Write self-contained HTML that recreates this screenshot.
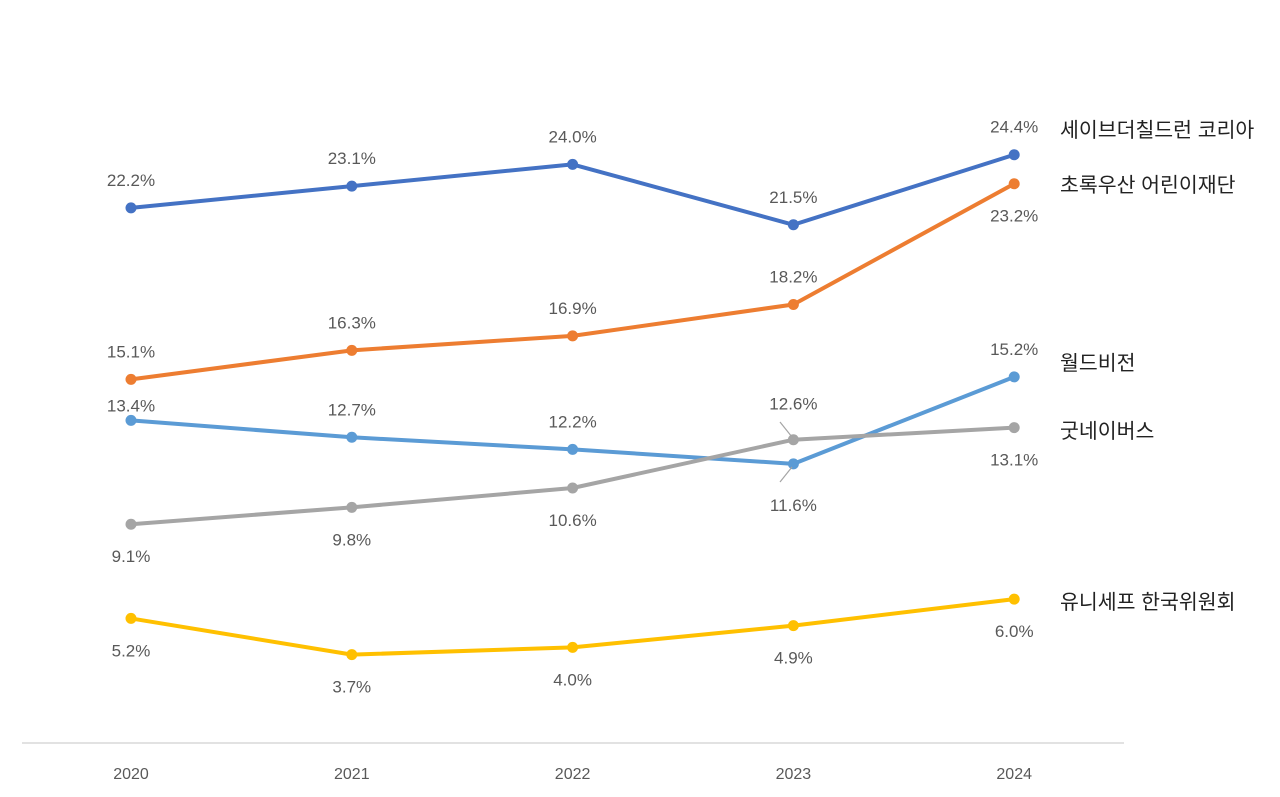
<!DOCTYPE html>
<html><head><meta charset="utf-8">
<style>
html,body{margin:0;padding:0;background:#fff;}
svg{display:block;font-family:"Liberation Sans","Noto Sans CJK KR",sans-serif;}
</style></head>
<body>
<svg id="chart" width="1280" height="797"></svg>
<script>
const years = ["2020","2021","2022","2023","2024"];
const seriesNames = ["세이브더칠드런 코리아","초록우산 어린이재단","월드비전","굿네이버스","유니세프 한국위원회"];
const saveTheChildren = [22.2,23.1,24.0,21.5,24.4];
const greenUmbrella = [15.1,16.3,16.9,18.2,23.2];
const worldVision = [13.4,12.7,12.2,11.6,15.2];
const goodNeighbors = [9.1,9.8,10.6,12.6,13.1];
const unicef = [5.2,3.7,4.0,4.9,6.0];
const seriesValues = [saveTheChildren,greenUmbrella,worldVision,goodNeighbors,unicef];
const colors = ["#4472C4","#ED7D31","#5B9BD5","#A5A5A5","#FFC000"];
// label placement: 1 above, -1 below
const placements = [[1,1,1,1,1],[1,1,1,1,-1],[1,1,1,-1,1],[-1,-1,-1,1,-1],[-1,-1,-1,-1,-1]];
const legendY = [130,185,363,431,602];

const NS="http://www.w3.org/2000/svg";
const svg=document.getElementById('chart');
function x(i){return 131+i*220.8;}
function y(v){return 744-v*24.15;}
function mk(tag,attrs,parent){const e=document.createElementNS(NS,tag);for(const k in attrs)e.setAttribute(k,attrs[k]);(parent||svg).appendChild(e);return e;}

const axis=mk('line',{x1:22,x2:1124,y1:743,y2:743,stroke:'#D9D9D9','stroke-width':1.5});


years.forEach((yr,i)=>{
  const t=mk('text',{x:x(i),y:779,'text-anchor':'middle','font-size':16,fill:'#595959'});
  t.textContent=yr;
  
  
});

seriesValues.forEach((vals,s)=>{
  const g=mk('g',{});
  
  
  const pts=vals.map((v,i)=>x(i)+','+y(v)).join(' ');
  const pl=mk('polyline',{points:pts,fill:'none',stroke:colors[s],'stroke-width':4,'stroke-linejoin':'round'},g);
  
  
  vals.forEach((v,i)=>{
    const c=mk('circle',{cx:x(i),cy:y(v),r:5.5,fill:colors[s]},g);
    
    
    const p=placements[s][i];
    let dy=p>0?-22:38;
    if(s===3&&i===3) dy=-30;
    if(s===2&&i===3) dy=47;
    if(s===2&&i===0) dy=-9;
    const t=mk('text',{x:x(i),y:y(v)+dy,'text-anchor':'middle','font-size':17,fill:'#595959'},g);
    t.textContent=v.toFixed(1)+'%';
    
    
  });
  const lg=mk('text',{x:1060,y:legendY[s]+7,'font-size':20.5,fill:'#222'});
  lg.textContent=seriesNames[s];
  
  
});
const l1=mk('line',{x1:780,y1:422,x2:792,y2:437,stroke:'#A5A5A5','stroke-width':1.2});


const l2=mk('line',{x1:792,y1:467,x2:780,y2:482,stroke:'#A5A5A5','stroke-width':1.2});


</script>
</body></html>
